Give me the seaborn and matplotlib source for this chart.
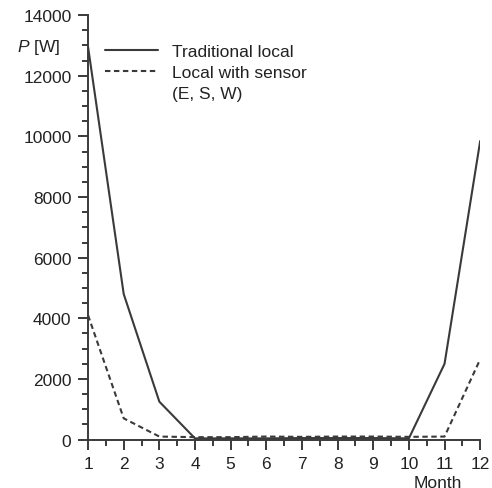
import numpy as np
import pandas as pd
import matplotlib
matplotlib.use("Agg")
import matplotlib.pyplot as plt
from matplotlib.lines import Line2D
from matplotlib.ticker import MultipleLocator
import seaborn as sns

months = list(range(1, 13))
traditional = [12950, 4800, 1250, 40, 40, 40, 50, 50, 50, 40, 2500, 9850]
with_sensor = [4100, 700, 100, 80, 80, 100, 90, 100, 100, 90, 100, 2650]
series_names = ["Traditional local", "Local with sensor"]

df = pd.DataFrame({
    "month": months * 2,
    "power": traditional + with_sensor,
    "series": [series_names[0]] * 12 + [series_names[1]] * 12,
})

sns.set_style("ticks")
plt.rcParams["font.family"] = ["Liberation Sans", "DejaVu Sans"]
plt.rcParams["mathtext.fontset"] = "custom"
plt.rcParams["mathtext.it"] = "Liberation Sans:italic"
plt.rcParams["mathtext.rm"] = "Liberation Sans"

ink = "#3a3a3a"
txt = "#222222"
fs = 12.5
dash = (2.6, 1.7)

fig = plt.figure(figsize=(4.92, 4.89), dpi=100)
ax = fig.add_axes([0.179, 0.099, 0.797, 0.868])

sns.lineplot(data=df, x="month", y="power", hue="series", style="series",
             palette={series_names[0]: ink, series_names[1]: ink},
             dashes={series_names[0]: "", series_names[1]: dash},
             linewidth=1.5, legend=False, ax=ax)

ax.set_xlim(1, 12)
ax.set_ylim(0, 14000)
ax.set_xticks(months)
ax.xaxis.set_minor_locator(MultipleLocator(0.5))
ax.yaxis.set_major_locator(MultipleLocator(2000))
ax.yaxis.set_minor_locator(MultipleLocator(500))
ax.tick_params(which="major", length=7, width=1.4, pad=5, labelsize=fs,
               color=ink, labelcolor=txt)
ax.tick_params(which="minor", length=4, width=1.4, color=ink)
ax.set_xlabel("")
ax.set_ylabel("")
sns.despine(ax=ax)
for s in ["left", "bottom"]:
    ax.spines[s].set_linewidth(1.4)
    ax.spines[s].set_color(ink)

ax.text(-0.072, 0.927, r"$P$ [W]", transform=ax.transAxes, ha="right",
        va="center", fontsize=fs, color=txt)
ax.text(10.82, -0.10, "Month", transform=ax.get_xaxis_transform(),
        ha="center", va="center", fontsize=fs, color=txt)

handles = [
    Line2D([], [], color=ink, lw=1.5),
    Line2D([], [], color=ink, lw=1.5, dashes=dash),
    Line2D([], [], color="none"),
]
ax.legend(handles, ["Traditional local", "Local with sensor", "(E, S, W)"],
          loc="upper left", bbox_to_anchor=(0.026, 0.948), borderaxespad=0,
          frameon=False, handlelength=3.05, handletextpad=0.8,
          labelspacing=0.33, fontsize=fs, labelcolor=txt)

fig.savefig("out.png", dpi=100)
